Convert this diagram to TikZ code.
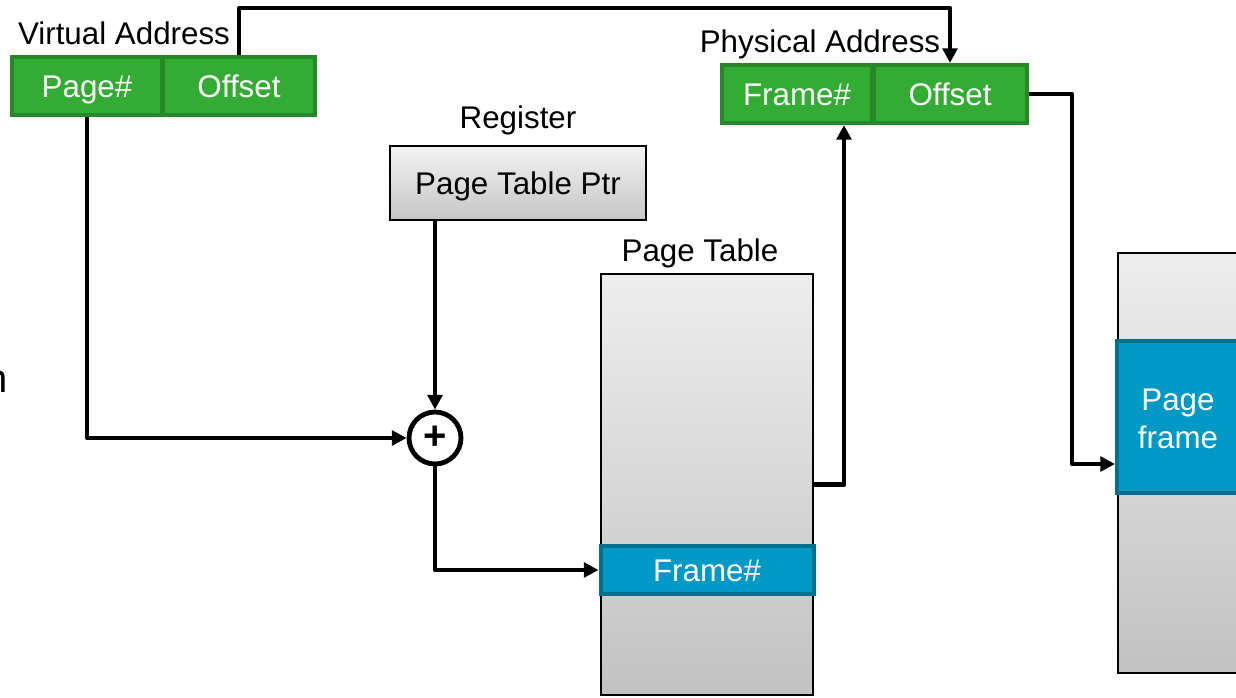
\documentclass[tikz,border=0pt]{standalone}
\usepackage{fontspec}
\setmainfont{Liberation Sans}
\usetikzlibrary{arrows.meta}
\newdimen\pxu \pxu=0.75pt
\definecolor{gfill}{RGB}{52,172,52}
\definecolor{gline}{RGB}{40,136,40}
\definecolor{bfill}{RGB}{0,152,196}
\definecolor{bline}{RGB}{0,110,140}
\tikzset{
  txt/.style={font=\fontsize{23.5}{28}\selectfont, inner sep=0},
  celltxt/.style={txt, text height=17pt, text depth=0pt},
  greencell/.style={celltxt, draw=gline, fill=gfill, line width=3pt, text=white,
    minimum width=150\pxu, minimum height=58\pxu},
  bluecell/.style={celltxt, draw=bline, fill=bfill, line width=3pt, text=white},
  graybox/.style={celltxt, draw=black, line width=1.1pt, top color=gray!10, bottom color=gray!45},
  conn/.style={draw=black, line width=3.6pt, line join=round,
    -{Triangle[length=11pt, width=11pt]}},
}
\begin{document}
\begin{tikzpicture}[x=\pxu, y=-\pxu]
\useasboundingbox (0,0) rectangle (1236,697);

% cut-off word at the left edge
\node[anchor=base west, inner sep=0, font=\fontsize{30}{34}\selectfont] (cutword) at (-15,392) {n};

% virtual address
\node[txt] (valabel) at (124,33) {Virtual Address};
\node[greencell] (vpage) at (87,86) {Page\#};
\node[greencell, minimum width=152\pxu] (voff) at (239,86) {Offset};

% physical address
\node[txt] (palabel) at (820,44) {Physical Address};
\node[greencell] (pframe) at (797,94) {Frame\#};
\node[greencell, minimum width=153\pxu] (poff) at (950,94) {Offset};

% page table base register
\node[txt] (reglabel) at (518,120) {Register};
\node[graybox, minimum width=256\pxu, minimum height=74\pxu] (ptr) at (518,183) {Page Table Ptr};

% page table
\node[txt] (ptlabel) at (700,253) {Page Table};
\node[graybox, minimum width=212\pxu, minimum height=421\pxu, top color=gray!14, bottom color=gray!48] (pt) at (707,484.5) {};
\node[bluecell, minimum width=213\pxu, minimum height=48\pxu] (ptframe) at (707,570) {Frame\#};

% physical memory
\node[graybox, minimum width=132\pxu, minimum height=420\pxu, top color=gray!14, bottom color=gray!48] (mem) at (1184,463) {};
\node[bluecell, minimum width=130\pxu, minimum height=152\pxu] (pf) at (1182,417) {};
\node[txt, text=white, align=center, font=\fontsize{23.5}{28.5}\selectfont] (pflabel) at (1178,419) {Page\\frame};

% adder
\node[circle, draw=black, fill=white, line width=3.6pt, minimum size=52\pxu, inner sep=0,
      font=\fontsize{30}{32}\selectfont\bfseries] (plus) at (435,438) {+};

% connectors
\draw[conn] (voff.north) -- ++(0,-47) -| (poff.north);
\draw[conn] (vpage.south) |- (plus.west);
\draw[conn] (plus |- ptr.south) -- (plus.north);
\draw[conn] (plus.south) |- (ptframe.west);
\draw[conn] (pt.east) -| ([xshift=47*0.75pt]pframe.south);
\coordinate (tap) at (1072,464);
\draw[conn] (poff.east) -| (tap) -- (tap -| pf.west);
\end{tikzpicture}
\end{document}
